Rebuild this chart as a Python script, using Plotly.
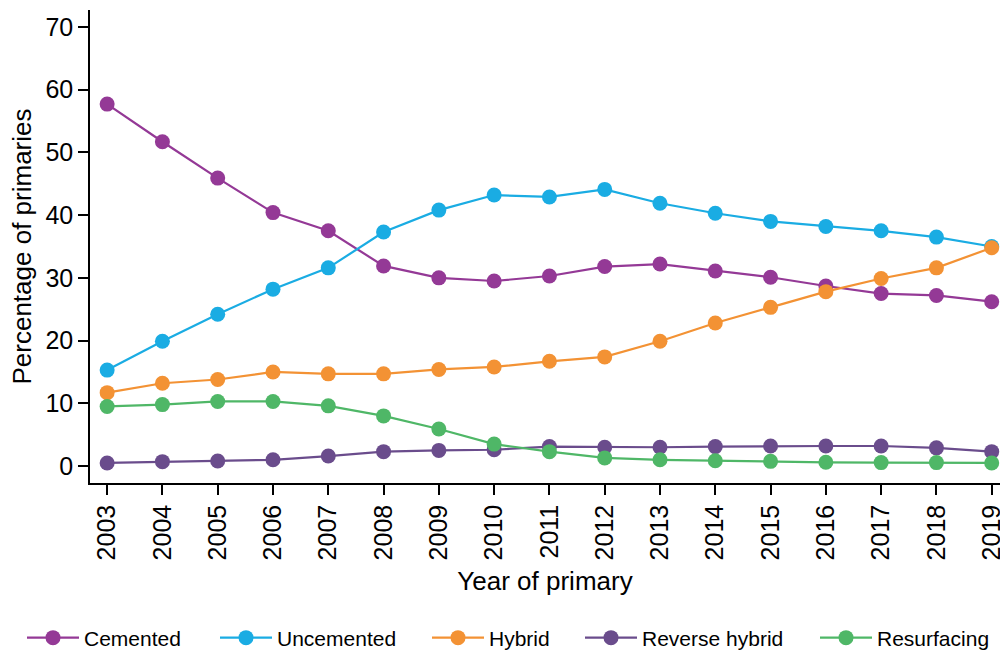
import plotly.graph_objects as go

years = list(range(2003, 2020))
series_names = ["Cemented", "Uncemented", "Hybrid", "Reverse hybrid", "Resurfacing"]
cemented = [57.7, 51.7, 45.9, 40.4, 37.5, 31.9, 30.0, 29.5, 30.3, 31.8, 32.2, 31.1, 30.1, 28.7, 27.5, 27.2, 26.2]
uncemented = [15.3, 19.9, 24.2, 28.2, 31.6, 37.3, 40.8, 43.2, 42.9, 44.1, 41.9, 40.3, 39.0, 38.2, 37.5, 36.5, 35.0]
hybrid = [11.7, 13.2, 13.8, 15.0, 14.7, 14.7, 15.4, 15.8, 16.7, 17.4, 19.9, 22.8, 25.3, 27.8, 29.9, 31.6, 34.8]
reverse_hybrid = [0.5, 0.7, 0.8, 1.0, 1.6, 2.3, 2.5, 2.6, 3.1, 3.0, 3.0, 3.1, 3.2, 3.2, 3.2, 2.9, 2.3]
resurfacing = [9.5, 9.8, 10.3, 10.3, 9.6, 8.0, 5.9, 3.5, 2.3, 1.3, 1.0, 0.85, 0.75, 0.6, 0.55, 0.55, 0.5]
y_ticks = [0, 10, 20, 30, 40, 50, 60, 70]

colors = ["#943996", "#1AACE3", "#F39234", "#6A4C8C", "#4FB767"]
values = [cemented, uncemented, hybrid, reverse_hybrid, resurfacing]
legend_x = [0.022, 0.215, 0.427, 0.580, 0.815]

FONT = "Liberation Sans, Arial, sans-serif"

fig = go.Figure()
legend_ids = ["legend", "legend2", "legend3", "legend4", "legend5"]
for name, vals, col, lid in zip(series_names, values, colors, legend_ids):
    fig.add_trace(go.Scatter(
        x=years, y=vals, name=name, mode="lines+markers",
        line=dict(color=col, width=2.2),
        marker=dict(color=col, size=15, line=dict(width=0)),
        cliponaxis=False, legend=lid,
    ))

layout_legends = {}
for lid, lx in zip(legend_ids, legend_x):
    layout_legends[lid] = dict(
        xref="container", yref="container",
        x=lx, xanchor="left", y=(652 - 638) / 652, yanchor="middle",
        orientation="h", itemwidth=52,
        font=dict(size=21, family=FONT, color="black"),
        bgcolor="rgba(0,0,0,0)", borderwidth=0,
    )

fig.update_layout(
    width=1000, height=652,
    margin=dict(l=90, r=0, t=10, b=169, autoexpand=False),
    paper_bgcolor="white", plot_bgcolor="white",
    font=dict(family=FONT, color="black"),
    showlegend=True,
    **layout_legends,
)

fig.update_xaxes(
    range=[2002.69, 2019.15], tickmode="array", tickvals=years,
    ticktext=[str(y) for y in years], tickangle=-90,
    ticklabeloverflow="allow",
    showgrid=False, zeroline=False,
    showline=True, linecolor="black", linewidth=1.5,
    ticks="outside", ticklen=10, tickwidth=1.5, tickcolor="black",
    tickfont=dict(size=25, family=FONT),
    title=dict(text="Year of primary", font=dict(size=26, family=FONT), standoff=12),
    automargin=False,
)
fig.update_yaxes(
    range=[-2.7, 72.7], tickmode="array", tickvals=y_ticks,
    ticklabeloverflow="allow",
    showgrid=False, zeroline=False,
    showline=True, linecolor="black", linewidth=1.5,
    ticks="outside", ticklen=10, tickwidth=1.5, tickcolor="black",
    tickfont=dict(size=25, family=FONT),
    title=dict(text="Percentage of primaries", font=dict(size=26, family=FONT), standoff=6),
    automargin=False,
)

fig.write_html("out.html", config={"displayModeBar": False},
               post_script="document.body.style.margin='0px';")
